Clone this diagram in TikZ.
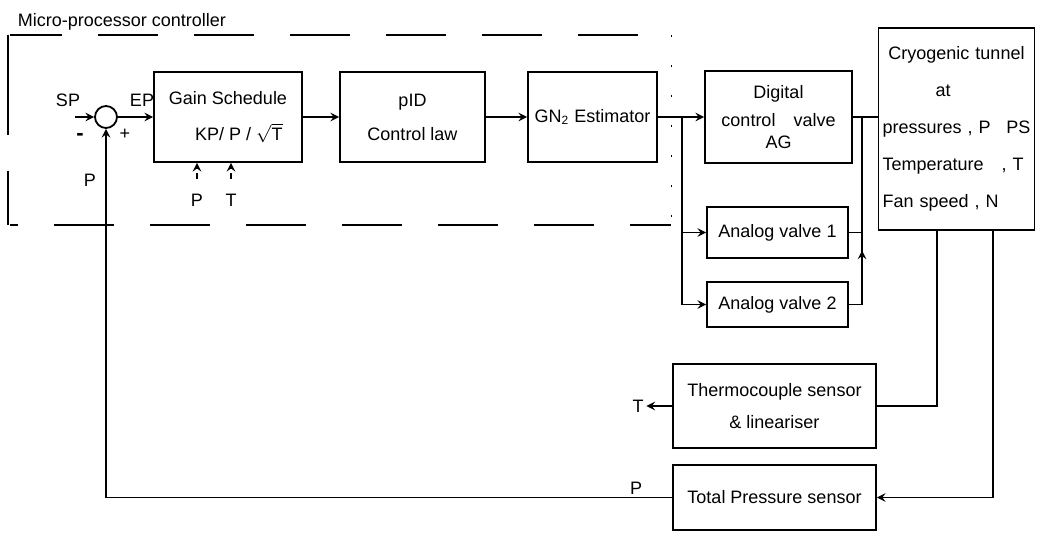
\documentclass[tikz,border=0pt]{standalone}
\usepackage{fontspec}
\setmainfont{Liberation Sans}
\usetikzlibrary{calc}

\tikzset{
  blk/.style={draw, align=center, inner sep=2pt},
  lbl/.style={inner sep=1pt},
  sumpt/.style={draw, circle, minimum size=11pt, inner sep=0pt},
  bound/.style={line width=0.8pt, dash pattern=on 30pt off 18pt},
}

\begin{document}
\begin{tikzpicture}[x=0.5pt, y=-0.5pt, >=stealth, line width=0.9pt, font=\fontsize{9}{11}\selectfont]
\useasboundingbox (0,0) rectangle (1039,533);

% controller boundary
\node[lbl, anchor=west] (title) at (15,22) {Micro-processor controller};
\draw[bound, dash phase=4pt] (10,35) -- (671,35);
\draw[bound, dash pattern=on 50pt off 18pt] (8,35) -- (8,225);
\draw[bound, dash phase=26pt] (10,225) -- (671,225);
\draw[line width=0.5pt, dash pattern=on 1pt off 14pt] (671,35) -- (671,225);

% forward path
\node[sumpt] (sum) at (106,117) {};
\node[blk, minimum width=74pt, minimum height=45pt] (gain) at (228,117)
  {Gain Schedule\\[7pt]\hspace*{1.2em}KP/ P / $\sqrt{\mbox{T}}$};
\node[blk, minimum width=72.5pt, minimum height=45pt] (pid) at (412.5,117)
  {pID\\[6pt]Control law};
\node[blk, minimum width=64.5pt, minimum height=45pt] (est) at (592.5,117)
  {GN\textsubscript{2} Estimator};
\node[blk, minimum width=73.5pt, minimum height=46pt] (dig) at (778.5,117)
  {Digital\\[3pt]control\quad valve\\AG};
\node[blk, minimum width=70.5pt, minimum height=25.5pt] (av1) at (777.5,232.5)
  {Analog valve 1};
\node[blk, minimum width=70.5pt, minimum height=22.5pt] (av2) at (777.5,304.5)
  {Analog valve 2};
\node[blk, align=left, text width=74pt, minimum height=101pt] (tunnel) at (956.5,129)
  {\makebox[\linewidth]{Cryogenic tunnel}\\[7.5pt]
   \makebox[\linewidth]{\hspace*{-1.5em}at}\\[7.5pt]
   pressures , P\hfill PS\\[7.5pt]
   Temperature\quad , T\\[7.5pt]
   Fan speed , N};

% sensors
\node[blk, minimum width=101.5pt, minimum height=42pt] (thermo) at (774.5,406)
  {Thermocouple sensor\\[5pt]\& lineariser};
\node[blk, minimum width=101.5pt, minimum height=32.5pt] (press) at (774.5,497.5)
  {Total Pressure sensor};

% labels
\node[lbl] (sp) at (68,100) {SP};
\node[lbl] (ep) at (142,100) {EP};
\node[lbl, font=\fontsize{11}{11}\selectfont\bfseries] (minus) at (80,137) {-};
\node[lbl] (plus) at (125,134) {+};
\node[lbl] (pfb) at (90,180) {P};
\node[lbl] (pin) at (197,200) {P};
\node[lbl] (tin) at (231,200) {T};
\node[lbl] (tout) at (638,406) {T};
\node[lbl] (pout) at (636,488) {P};

\coordinate (spin) at (75,117);
\coordinate (jn) at (682,117);
\coordinate (bus) at (862,117);
\coordinate (tq) at (937,0);
\coordinate (pq) at (993,0);

% connections
\draw[->] (spin) -- (sum.west);
\draw[->] (sum.east) -- (gain.west);
\draw[->] (gain) -- (pid);
\draw[->] (pid) -- (est);
\draw[->] (est) -- (dig);
\draw[->, densely dashed, shorten <=6pt] (pin.north) -- (pin.north |- gain.south);
\draw[->, densely dashed, shorten <=6pt] (tin.north) -- (tin.north |- gain.south);

% valve branches
\draw[->] (jn) |- (av1.west);
\draw[->] (jn) |- (av2.west);
\draw (dig.east) -- (dig.east -| tunnel.west);
\draw (av1.east) -| (bus);
\draw (av2.east) -| (bus);
\draw[->] (av2.east -| bus) -- ($(av1.east -| bus)!0.25!(av2.east -| bus)$);

% measurement and feedback
\draw (tunnel.south -| tq) |- (thermo.east);
\draw[->] (tunnel.south -| pq) |- (press.east);
\draw[->] (thermo.west) -- (tout.east);
\draw[->] (press.west) -| (sum.south);
\end{tikzpicture}
\end{document}
